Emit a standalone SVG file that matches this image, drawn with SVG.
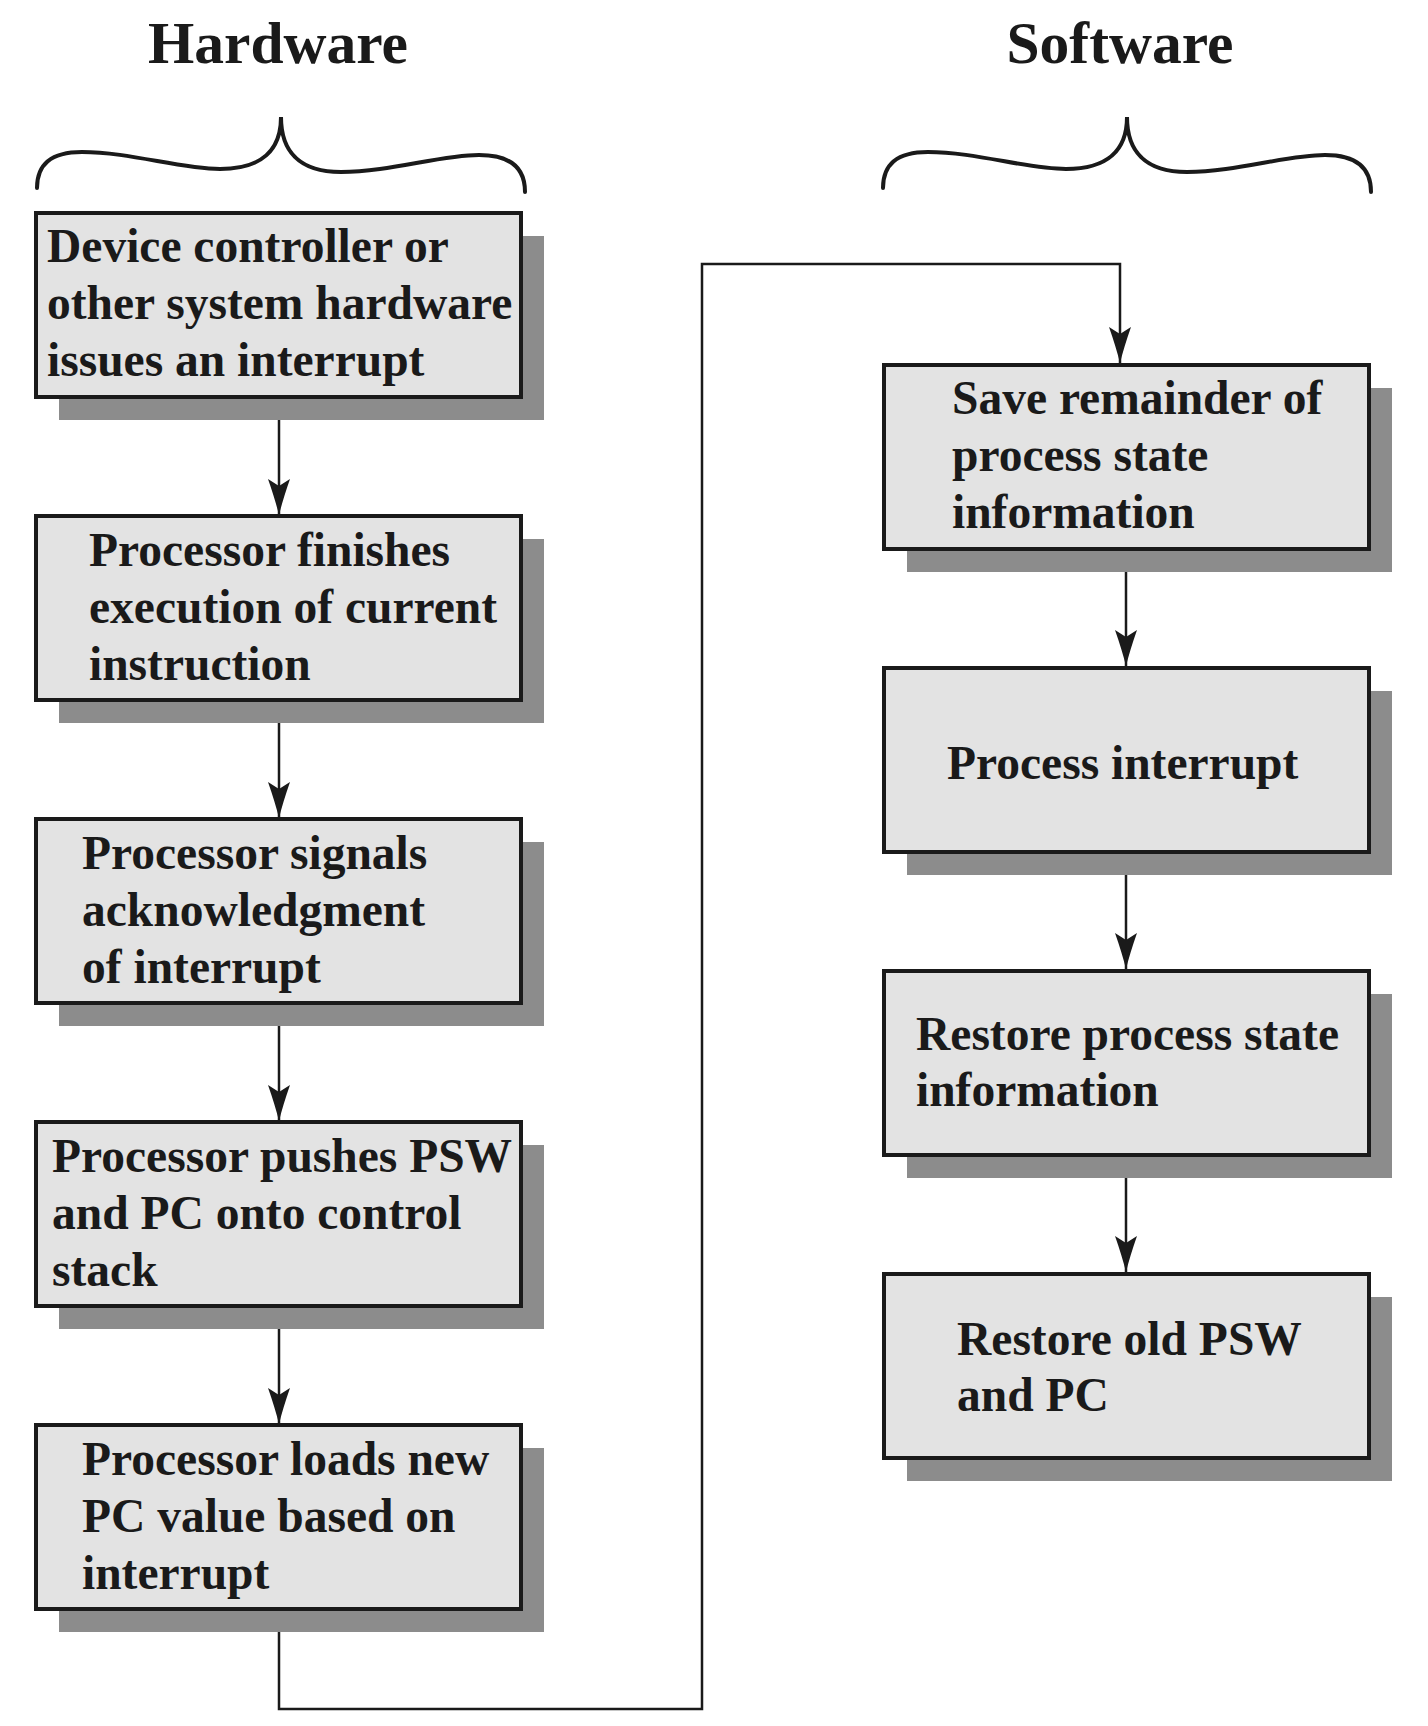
<svg xmlns="http://www.w3.org/2000/svg" width="1428" height="1726" viewBox="0 0 1428 1726">
<style>
.box{fill:#e3e3e3;stroke:#1a1a1a;stroke-width:4}
.sh{fill:#8c8c8c}
.t{font-family:"Liberation Serif","Times New Roman",serif;font-weight:bold;font-size:47.5px;fill:#1a1a1a}
.title{font-family:"Liberation Serif","Times New Roman",serif;font-weight:bold;font-size:59.5px;fill:#1a1a1a;text-anchor:middle}
.ln{fill:none;stroke:#1a1a1a;stroke-width:2.5}
.brace{fill:none;stroke:#1a1a1a;stroke-width:4;stroke-linecap:round}
</style>
<defs>
<marker id="ah" markerUnits="userSpaceOnUse" markerWidth="40" markerHeight="26" viewBox="-40 -13 40 26" refX="0" refY="0" orient="auto">
<path d="M0,0 Q-16,-4 -36,-11 L-29,0 L-36,11 Q-16,4 0,0 Z" fill="#1a1a1a"/>
</marker>
</defs>
<rect width="1428" height="1726" fill="#ffffff"/>
<g id="titles">
<text class="title" x="278" y="63">Hardware</text>
<text class="title" x="1120" y="63">Software</text>
</g>
<g id="braces">
<path id="lbrace" class="brace" d="M37,188 C37,165 50,152 82,152 C130,152 180,169 220,169 C262,169 281,150 281,117 C281,150 298,172 341,172 C390,172 440,155 479,155 C510,155 525,168 525,192"/>
<path class="brace" transform="translate(846,0)" d="M37,188 C37,165 50,152 82,152 C130,152 180,169 220,169 C262,169 281,150 281,117 C281,150 298,172 341,172 C390,172 440,155 479,155 C510,155 525,168 525,192"/>
</g>
<g id="connectors">
<path class="ln" d="M279,397 V515" marker-end="url(#ah)"/>
<path class="ln" d="M279,700 V818" marker-end="url(#ah)"/>
<path class="ln" d="M279,1003 V1121" marker-end="url(#ah)"/>
<path class="ln" d="M279,1306 V1424" marker-end="url(#ah)"/>
<path class="ln" d="M279,1609 V1709 H702 V264 H1120 V363" marker-end="url(#ah)"/>
<path class="ln" d="M1126,549 V666" marker-end="url(#ah)"/>
<path class="ln" d="M1126,852 V969" marker-end="url(#ah)"/>
<path class="ln" d="M1126,1155 V1272" marker-end="url(#ah)"/>
</g>
<g id="n1">
<rect class="sh" x="59" y="236" width="485" height="184"/>
<rect class="box" x="36" y="213" width="485" height="184"/>
<text class="t" x="47" y="262">Device controller or</text>
<text class="t" x="47" y="319">other system hardware</text>
<text class="t" x="47" y="376">issues an interrupt</text>
</g>
<g id="n2">
<rect class="sh" x="59" y="539" width="485" height="184"/>
<rect class="box" x="36" y="516" width="485" height="184"/>
<text class="t" x="89" y="566">Processor finishes</text>
<text class="t" x="89" y="623">execution of current</text>
<text class="t" x="89" y="680">instruction</text>
</g>
<g id="n3">
<rect class="sh" x="59" y="842" width="485" height="184"/>
<rect class="box" x="36" y="819" width="485" height="184"/>
<text class="t" x="82" y="869">Processor signals</text>
<text class="t" x="82" y="926">acknowledgment</text>
<text class="t" x="82" y="983">of interrupt</text>
</g>
<g id="n4">
<rect class="sh" x="59" y="1145" width="485" height="184"/>
<rect class="box" x="36" y="1122" width="485" height="184"/>
<text class="t" x="52" y="1172">Processor pushes PSW</text>
<text class="t" x="52" y="1229">and PC onto control</text>
<text class="t" x="52" y="1286">stack</text>
</g>
<g id="n5">
<rect class="sh" x="59" y="1448" width="485" height="184"/>
<rect class="box" x="36" y="1425" width="485" height="184"/>
<text class="t" x="82" y="1475">Processor loads new</text>
<text class="t" x="82" y="1532">PC value based on</text>
<text class="t" x="82" y="1589">interrupt</text>
</g>
<g id="n6">
<rect class="sh" x="907" y="388" width="485" height="184"/>
<rect class="box" x="884" y="365" width="485" height="184"/>
<text class="t" x="952" y="414">Save remainder of</text>
<text class="t" x="952" y="471">process state</text>
<text class="t" x="952" y="528">information</text>
</g>
<g id="n7">
<rect class="sh" x="907" y="691" width="485" height="184"/>
<rect class="box" x="884" y="668" width="485" height="184"/>
<text class="t" x="947" y="779">Process interrupt</text>
</g>
<g id="n8">
<rect class="sh" x="907" y="994" width="485" height="184"/>
<rect class="box" x="884" y="971" width="485" height="184"/>
<text class="t" x="916" y="1050">Restore process state</text>
<text class="t" x="916" y="1106">information</text>
</g>
<g id="n9">
<rect class="sh" x="907" y="1297" width="485" height="184"/>
<rect class="box" x="884" y="1274" width="485" height="184"/>
<text class="t" x="957" y="1355">Restore old PSW</text>
<text class="t" x="957" y="1411">and PC</text>
</g>
</svg>
